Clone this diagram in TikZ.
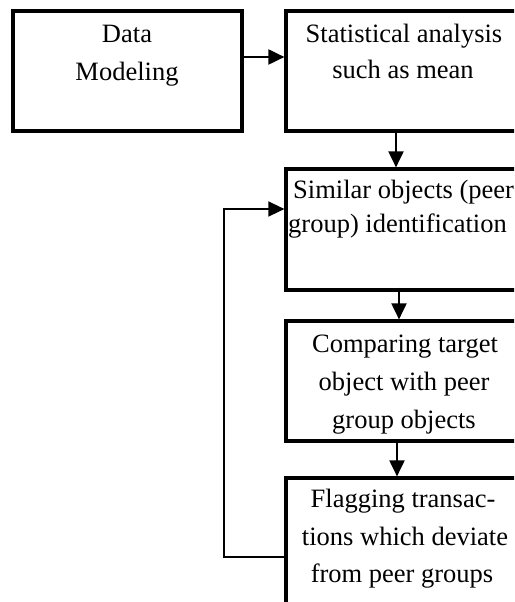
\documentclass[tikz,border=0pt]{standalone}
\usepackage{fontspec}
\setmainfont{Liberation Serif}
\usetikzlibrary{arrows.meta}
\begin{document}
\begin{tikzpicture}[x=1pt,y=-1pt,
  box/.style={draw=black,line width=3.2pt,rectangle,inner sep=0pt},
  txt/.style={anchor=base,inner sep=0pt,font=\fontsize{26.5pt}{37pt}\selectfont},
  arr/.style={line width=2pt,-{Triangle[length=16pt,width=15pt]}},
  fb/.style={line width=1.4pt,-{Triangle[length=16pt,width=15pt]}}]
\useasboundingbox (0,0) rectangle (514,602);
\begin{scope}
\clip (0,0) rectangle (514,602);
\node[box,minimum width=229pt,minimum height=120pt] (b1) at (127.5,71) {};
\node[box,minimum width=234pt,minimum height=120pt] (b2) at (403,71) {};
\node[box,minimum width=234pt,minimum height=121pt] (b3) at (403,229.5) {};
\node[box,minimum width=234pt,minimum height=120pt] (b4) at (403,381) {};
\node[box,minimum width=234pt,minimum height=140pt] (b5) at (403,548) {};
% texts
\node[txt] (t1a) at (127,43) {Data};
\node[txt] (t1b) at (127,80) {Modeling};
\node[txt] (t2a) at (404,43) {Statistical analysis};
\node[txt] (t2b) at (403,78) {such as mean};
\node[txt,anchor=base west] (t3a) at (293,198) {Similar objects (peer};
\node[txt,anchor=base west] (t3b) at (288,232) {group) identification};
\node[txt] (t4a) at (405,352) {Comparing target};
\node[txt] (t4b) at (404,390) {object with peer};
\node[txt] (t4c) at (404,428) {group objects};
\node[txt] (t5a) at (403,507) {Flagging transac-};
\node[txt] (t5b) at (405,545) {tions which deviate};
\node[txt] (t5c) at (402,582) {from peer groups};
\end{scope}
% connectors
\draw[arr] ([yshift=14pt]b1.east) -- ([yshift=14pt]b2.west);
\draw[arr] ([xshift=-7pt]b2.south) -- ([xshift=-7pt]b3.north);
\draw[arr] ([xshift=-4pt,yshift=4pt]b3.south) -- ([xshift=-4pt]b4.north);
\draw[arr] ([xshift=-6pt]b4.south) -- ([xshift=-6pt]b5.north);
\coordinate (fbc) at (224,557);
\draw[fb] ([yshift=-9pt]b5.west) -- (fbc) |- ([yshift=20.5pt]b3.west);
\end{tikzpicture}
\end{document}
